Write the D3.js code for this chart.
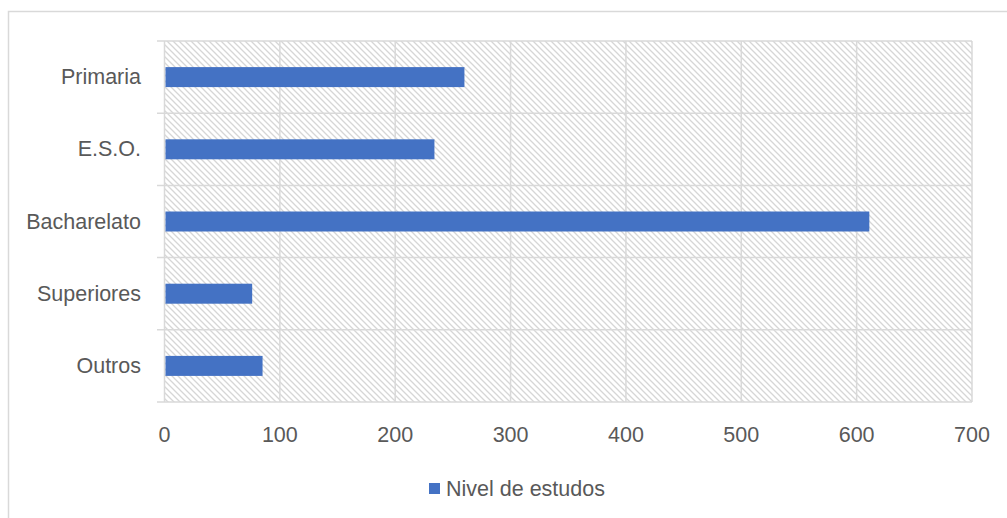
<!DOCTYPE html>
<html>
<head>
<meta charset="utf-8">
<script src="https://cdn.jsdelivr.net/npm/d3@7"></script>
<style>
html,body{margin:0;padding:0;background:#fff;}
svg{display:block;}
text{font-family:"Liberation Sans",Arial,sans-serif;fill:#595959;}
</style>
</head>
<body>
<svg id="chart" width="1007" height="518"></svg>
<script>
const categories = ["Primaria", "E.S.O.", "Bacharelato", "Superiores", "Outros"];
const values = [260, 234, 611, 76, 85];
const seriesName = "Nivel de estudos";
const xTicks = [0, 100, 200, 300, 400, 500, 600, 700];

const svg = d3.select("#chart");
const W = 1007, H = 518;
const m = {left: 164.5, right: 972, top: 41, bottom: 402};
const grid = "#d9d9d9";

// outer chart border
svg.append("rect").attr("x", 8.5).attr("y", 11.5).attr("width", W + 20).attr("height", H + 20)
  .attr("fill", "#fff").attr("stroke", grid).attr("stroke-width", 1.5);

// hatch pattern
const defs = svg.append("defs");
const pat = defs.append("pattern").attr("id", "hatch").attr("patternUnits", "userSpaceOnUse")
  .attr("width", 6).attr("height", 6);
pat.append("rect").attr("width", 6).attr("height", 6).attr("fill", "#fff");
pat.append("path").attr("d", "M-1,-1 L7,7 M-4,2 L2,8 M4,-2 L10,4")
  .attr("stroke", "#d6d6d6").attr("stroke-width", 1.3);

const x = d3.scaleLinear().domain([0, 700]).range([m.left, m.right]);
const y = d3.scaleBand().domain(categories).range([m.top, m.bottom]).paddingInner(0).paddingOuter(0);

svg.append("rect").attr("x", m.left).attr("y", m.top)
  .attr("width", m.right - m.left).attr("height", m.bottom - m.top).attr("fill", "url(#hatch)");

// vertical gridlines
svg.append("g").selectAll("line").data(xTicks).join("line")
  .attr("x1", d => x(d)).attr("x2", d => x(d))
  .attr("y1", m.top).attr("y2", m.bottom)
  .attr("stroke", grid).attr("stroke-width", 1.5);

// horizontal category boundary lines (with outward ticks)
const bounds = categories.map(c => y(c)).concat([m.bottom]);
svg.append("g").selectAll("line").data(bounds).join("line")
  .attr("x1", m.left - 7.5).attr("x2", m.right)
  .attr("y1", d => d).attr("y2", d => d)
  .attr("stroke", grid).attr("stroke-width", 1.5);

// bars
const bh = 20;
svg.append("g").selectAll("rect").data(categories).join("rect")
  .attr("x", x(0) + 1)
  .attr("y", (d) => y(d) + y.bandwidth() / 2 - bh / 2)
  .attr("width", (d, i) => x(values[i]) - x(0) - 1)
  .attr("height", bh)
  .attr("fill", "#4472C4");

// y labels
svg.append("g").selectAll("text").data(categories).join("text")
  .attr("x", 141).attr("y", d => y(d) + y.bandwidth() / 2 + 7)
  .attr("text-anchor", "end").attr("font-size", 21.5).text(d => d);

// x labels
svg.append("g").selectAll("text").data(xTicks).join("text")
  .attr("x", d => x(d)).attr("y", 442)
  .attr("text-anchor", "middle").attr("font-size", 21.5).text(d => d);

// legend
svg.append("rect").attr("x", 429).attr("y", 483).attr("width", 11).attr("height", 11).attr("fill", "#4472C4");
svg.append("text").attr("x", 446).attr("y", 496).attr("font-size", 21.5).text(seriesName);
</script>
</body>
</html>
